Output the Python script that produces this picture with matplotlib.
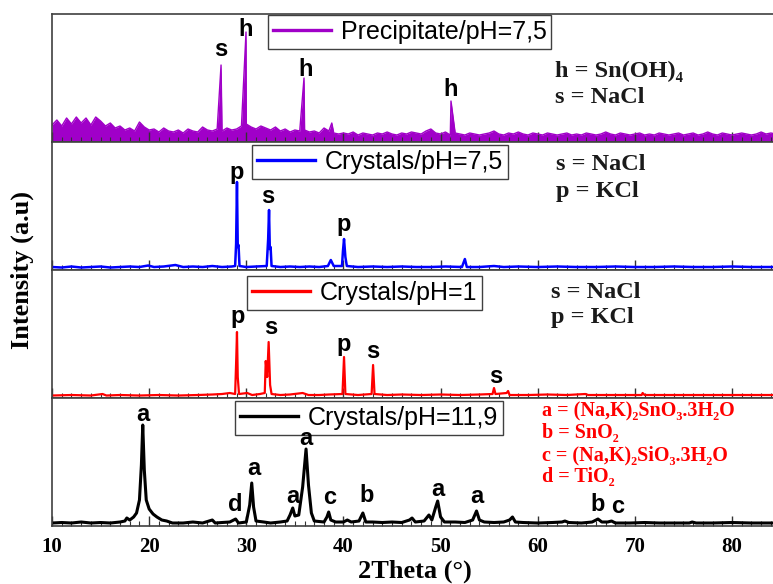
import numpy as np
import matplotlib
matplotlib.use("Agg")
import matplotlib.pyplot as plt
from matplotlib.ticker import MultipleLocator

# ---- data (intensities in arbitrary units) ----
# Precipitate pH=7,5 : noisy background sampled every 0.5 deg from 10 to 85
purple_bg = [16, 21, 15, 23, 17, 24, 18, 23, 16, 24,
             20, 15, 18, 13, 15, 11, 13, 10, 19, 14,
             11, 12, 9, 13, 10, 9, 11, 8, 12, 10,
             9, 14, 11, 10, 12, 10, 13, 11, 12, 15,
             17, 14, 12, 15, 13, 11, 14, 10, 12, 9,
             11, 10, 11, 9, 10, 8, 13, 10, 8, 7,
             8, 7, 9, 6, 8, 7, 6, 8, 7, 9,
             7, 6, 8, 7, 9, 8, 7, 10, 12, 8,
             7, 9, 6, 8, 7, 6, 8, 7, 6, 7,
             8, 10, 7, 6, 8, 7, 9, 7, 6, 8,
             7, 6, 8, 7, 6, 7, 8, 6, 7, 6,
             8, 7, 6, 7, 9, 7, 6, 8, 7, 6,
             7, 8, 6, 7, 6, 8, 7, 6, 7, 8,
             6, 7, 8, 6, 7, 9, 7, 6, 8, 7,
             6, 7, 8, 7, 6, 7, 9, 7, 8, 7,
             7]
purple_peak_x = [27.4, 29.97, 35.94, 38.8, 51.07]
purple_peak_y = [76, 109, 63, 18, 40]

# Crystals pH=7,5
blue_x = [10, 11, 12, 13, 14, 15, 16, 17, 18, 19, 19.9, 20.5, 21.5, 22.7, 23.5,
          24.5, 25.5, 26.5, 27.5, 28.5, 28.85, 28.95, 29.04, 29.12, 29.2, 29.3,
          30.0, 31.0, 32.1, 32.25, 32.34, 32.42, 32.5, 32.6, 33.5, 34.5, 35.5,
          36.5, 37.5, 38.4, 38.7, 39.0, 39.85, 39.95, 40.06, 40.2, 40.35, 41.5,
          43, 44.5, 46, 47.5, 49, 50.5, 52.2, 52.5, 52.7, 54, 55.5, 56.5, 58,
          60, 62, 64, 66, 68, 70, 72, 74, 76, 78, 80, 82, 85]
blue_y = [2, 1.5, 2.5, 1.5, 2, 2.5, 1.5, 2, 2.5, 2, 3.5, 2, 2.5, 4, 2,
          2.5, 2, 3, 2, 2.5, 3, 25, 87, 22, 24, 3,
          2, 2.5, 3, 30, 59, 20, 22, 3, 2, 2.5, 2,
          2.5, 2, 3, 9, 3, 3, 18, 30, 12, 3, 2,
          2.5, 2, 2.5, 2, 2, 2.5, 2, 10, 2, 2, 3, 2, 2.5,
          2, 2.5, 2, 2, 2.5, 2, 2, 2.5, 2, 2, 2.5, 2, 2]

# Crystals pH=1
red_x = [10, 12, 14, 15.2, 15.6, 17, 19, 21, 23, 25, 26.5, 27.5, 28.3, 28.85,
         28.97, 29.04, 29.12, 29.25, 30.1, 30.6, 31.4, 31.9, 32.0, 32.15, 32.3,
         32.45, 32.6, 33.5, 34.5, 35.8, 36.4, 37.5, 38.5, 39.9, 40.06, 40.2,
         41.5, 42.9, 43.05, 43.2, 44.5, 46, 48, 50, 52, 54, 55.35, 55.5, 55.65,
         56.8, 56.95, 57.1, 59, 61, 63, 64.9, 65.2, 67, 69, 70.7, 70.8, 71, 73,
         75, 77, 79, 81, 83, 85]
red_y = [1.5, 2, 1.5, 3, 1.5, 2, 1.5, 2, 1.5, 2, 2.5, 3, 4, 3,
         40, 65, 20, 3, 4, 2, 3, 4, 36, 20, 55,
         12, 3, 2, 2.5, 4, 2, 2, 2.5, 3, 40, 3,
         2, 3, 32, 3, 2, 2.5, 2, 2.5, 2, 2.5, 3, 9, 3,
         4, 6, 2, 2, 2.5, 2, 3, 2, 2, 2, 2, 4, 2, 2,
         2, 2, 2, 2, 2, 2]

# Crystals pH=11,9
black_x = [10, 11, 12, 13, 14, 15, 16, 17, 17.5, 17.7, 18.0, 18.4, 18.7, 19.0,
           19.2, 19.34, 19.5, 19.7, 20.0, 20.4, 20.8, 21.3, 21.8, 22.4, 23.5,
           24.5, 25.5, 26.5, 26.8, 27.5, 28.3, 28.9, 29.2, 30.0, 30.35, 30.56,
           30.75, 31.0, 31.8, 32.5, 33.5, 34.2, 34.5, 34.78, 35.0, 35.4, 35.8,
           36.15, 36.4, 36.7, 37.0, 38.0, 38.3, 38.48, 38.7, 39.2, 40.0, 40.4,
           40.8, 41.6, 42.0, 42.3, 43, 44, 45, 46, 46.8, 47.06, 47.4, 48.3, 48.8,
           49.1, 49.5, 49.7, 50.0, 50.4, 51.5, 52.5, 53.3, 53.7, 54.0, 54.5,
           55.5, 56.5, 57.1, 57.4, 57.7, 58.5, 60, 61.5, 62.5, 62.8, 63.2, 64.5,
           65.6, 66.2, 66.6, 67.2, 67.6, 68.0, 69.5, 71, 72.5, 74, 75.6, 75.9,
           76.3, 78, 80, 82, 85]
black_y = [2, 2.5, 2, 3, 2, 2.5, 2, 3, 4, 7, 5, 8, 12, 25,
           60, 100, 55, 25, 16, 11, 8, 5, 4, 2, 2,
           3, 2, 5, 2, 2.5, 3, 6, 2, 3, 20, 42,
           18, 4, 3, 2, 3, 4, 10, 17, 9, 10, 38,
           76, 40, 12, 4, 3, 8, 13, 5, 3, 3, 5,
           3, 4, 12, 3, 3, 2.5, 3, 2.5, 5, 7, 3, 4, 10,
           5, 18, 24, 8, 3, 3, 2.5, 5, 14, 5, 3,
           2.5, 3, 5, 8, 3, 2.5, 2, 2.5, 3, 4, 2.5, 2,
           3, 6, 3, 3, 4, 2, 2, 2.5, 2, 2, 2, 3,
           2, 2, 2.5, 2, 2]

# peak letters: (letter, 2theta, height)
purple_marks = [("s", 27.35, 92), ("h", 29.95, 112), ("h", 36.1, 72), ("h", 51.0, 52)]
blue_marks = [("p", 29.05, 97), ("s", 32.2, 73), ("p", 40.05, 45)]
red_marks = [("p", 29.1, 81), ("s", 32.5, 70), ("p", 40.05, 53), ("s", 43.0, 46), ("s", 55.7, 21)]
black_marks = [("a", 19.37, 111), ("d", 28.9, 21), ("a", 30.8, 57), ("a", 34.8, 29),
               ("a", 36.15, 87), ("c", 38.6, 28), ("b", 42.4, 30), ("a", 49.7, 36),
               ("a", 53.75, 29), ("b", 66.2, 21), ("c", 68.2, 19)]

purple_notes = ["h = Sn(OH)\u2084", "s = NaCl"]
blue_notes = ["s = NaCl", "p = KCl"]
red_notes = ["s = NaCl", "p = KCl"]
black_notes = ["a = (Na,K)\u2082SnO\u2083.3H\u2082O", "b = SnO\u2082",
               "c = (Na,K)\u2082SiO\u2083.3H\u2082O", "d = TiO\u2082"]

labels = ["Precipitate/pH=7,5", "Crystals/pH=7,5", "Crystals/pH=1", "Crystals/pH=11,9"]
colors = ["#A000C8", "#0000FF", "#FF0000", "#000000"]

# ---- build purple trace: background grid + peak apexes ----
pbx = np.arange(len(purple_bg)) * 0.5 + 10
px = np.concatenate([pbx, purple_peak_x])
py = np.concatenate([purple_bg, purple_peak_y])
order = np.argsort(px)
px, py = px[order], py[order]

serif = ["Liberation Serif", "DejaVu Serif"]
sans = ["Liberation Sans", "DejaVu Sans"]

fig, axes = plt.subplots(4, 1, figsize=(7.73, 5.84), dpi=100, sharex=True,
                         gridspec_kw={"hspace": 0})
fig.subplots_adjust(left=0.0673, right=1.0098, top=0.976, bottom=0.0993)

traces = [(px, py), (blue_x, blue_y), (red_x, red_y), (black_x, black_y)]
marks = [purple_marks, blue_marks, red_marks, black_marks]
leg_pos = [(0.2965, 0.995), (0.2745, 0.98), (0.268, 0.955), (0.2515, 0.975)]
widths = [1.0, 1.8, 1.6, 2.2]

for i, ax in enumerate(axes):
    x, y = traces[i]
    if i == 0:
        ax.fill_between(x, 0, y, color=colors[i], lw=0)
        ax.plot(x, y, color=colors[i], lw=widths[i], label=labels[i])
    else:
        ax.plot(x, y, color=colors[i], lw=widths[i], label=labels[i])
    ax.set_xlim(10, 85)
    ax.set_ylim(-1, 127)
    ax.set_yticks([])
    ax.xaxis.set_major_locator(MultipleLocator(10))
    ax.xaxis.set_minor_locator(MultipleLocator(1))
    ax.tick_params(axis="x", which="major", direction="in", length=7, width=1, color="#333333", pad=8)
    ax.tick_params(axis="x", which="minor", direction="in", length=3.5, width=0.8, color="#333333")
    for s in ax.spines.values():
        s.set_color("#404040")
        s.set_linewidth(1.2)
    ax.spines["right"].set_visible(False)
    for letter, lx, ly in marks[i]:
        ax.text(lx, ly, letter, ha="center", va="center", fontsize=17,
                fontweight="bold", family=sans, zorder=10)
    leg = ax.legend(loc="upper left", bbox_to_anchor=leg_pos[i], borderaxespad=0,
                    fancybox=False, framealpha=1, edgecolor="#404040",
                    handlelength=2.3, handletextpad=0.4, borderpad=0.2,
                    prop={"family": sans, "size": 18})
    leg.set_zorder(5)
    leg.get_frame().set_linewidth(1.0)
    for ln in leg.get_lines():
        ln.set_linewidth(2.4)

for ax, notes, ys, xs in [(axes[0], purple_notes, [70, 44], 61.8),
                          (axes[1], blue_notes, [105, 78], 61.9),
                          (axes[2], red_notes, [105, 80], 61.4)]:
    for t, yy in zip(notes, ys):
        ax.text(xs, yy, t, ha="left", va="center", fontsize=17.5, fontweight="bold",
                family=serif, color="#1a1a1a")

for t, yy in zip(black_notes, [114, 92, 70, 48]):
    axes[3].text(60.4, yy, t, ha="left", va="center", fontsize=14.5, fontweight="bold",
                 family=serif, color="#FF0000")

for lab in axes[3].get_xticklabels():
    lab.set_family(serif)
    lab.set_fontweight("bold")
    lab.set_fontsize(15)

fig.text(0.537, 0.021, "2Theta (\u00b0)", ha="center", va="center", fontsize=19,
         fontweight="bold", family=serif)
fig.text(0.029, 0.538, "Intensity (a.u)", ha="center", va="center", rotation=90,
         fontsize=19, fontweight="bold", family=serif)

fig.savefig("out.png", dpi=100)
